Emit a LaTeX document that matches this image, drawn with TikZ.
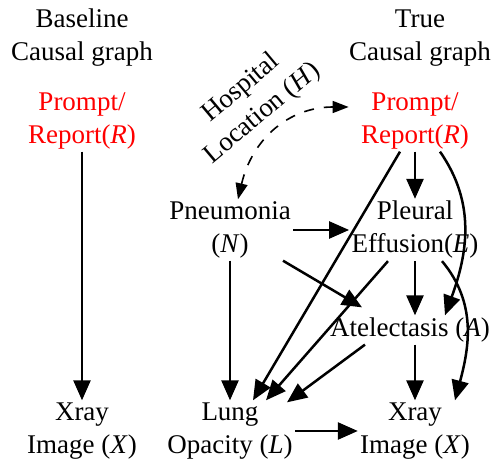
\documentclass[tikz,border=0pt]{standalone}
\usepackage{fontspec}
\setmainfont{Liberation Serif}
\usetikzlibrary{arrows.meta,calc}
\begin{document}
\begin{tikzpicture}[x=0.5pt,y=0.5pt,
  lbl/.style={align=center,inner sep=1pt,font=\fontsize{13.5}{16.5}\selectfont},
  arr/.style={-{Triangle[length=10pt,width=8.5pt]},line width=1.25pt},
  darr/.style={{Triangle[length=8pt,width=6pt]}-{Triangle[length=8pt,width=6pt]},line width=0.8pt,dash pattern=on 5pt off 5pt}]
\useasboundingbox (0,0) rectangle (495,-464);
\node[lbl] (bl) at (82,-38) {Baseline\\Causal graph};
\node[lbl] (tr) at (420,-38) {True\\Causal graph};
\node[lbl,text=red] (R1) at (82,-121) {Prompt/\\Report(\textit{R})};
\node[lbl,text=red] (R2) at (415,-121) {Prompt/\\Report(\textit{R})};
\node[lbl] (X1) at (82,-431) {Xray\\Image (\textit{X})};
\node[lbl] (N) at (230,-230) {Pneumonia\\(\textit{N})};
\node[lbl] (E) at (415,-230) {Pleural\\Effusion(\textit{E})};
\node[lbl] (A) at (410,-330) {Atelectasis (\textit{A})};
\node[lbl] (L) at (230,-431) {Lung\\Opacity (\textit{L})};
\node[lbl] (X2) at (415,-431) {Xray\\Image (\textit{X})};
\node[lbl,rotate=40] (H) at (252,-101) {Hospital\\Location (\textit{H})};
% baseline
\draw[arr] (R1.south) -- (X1.north);
% true graph
\draw[darr] ($(N.north)+(8,0)$) .. controls ($(N.north)+(22,60)$) and ($(R2.west)+(-70,14)$) .. ($(R2.west)+(-10,14)$);
\draw[arr] (R2.south) -- (E.north);
\draw[arr] ($(R2.south)+(-15,0)$) -- ($(L.north)+(23,0)$);
\draw[arr] ($(R2.south)+(25,0)$) to[out=-55,in=70] ($(A.north)+(35,0)$);
\draw[arr] (N.east) -- (E.west);
\draw[arr] ($(N.south)+(53,0)$) -- ($(A.north)+(-48,8)$);
\draw[arr] (N.south) -- (L.north);
\draw[arr] (E.south) -- ($(A.north)+(5,0)$);
\draw[arr] ($(E.south)+(-27,0)$) -- ($(L.north)+(36,0)$);
\draw[arr] ($(E.south)+(27,0)$) to[out=-50,in=75] ($(X2.north)+(40,0)$);
\draw[arr] ($(A.south)+(-45,0)$) -- ($(L.north)+(57,-2)$);
\draw[arr] ($(A.south)+(5,0)$) -- (X2.north);
\draw[arr] (L.east) -- (X2.west);
\end{tikzpicture}
\end{document}
